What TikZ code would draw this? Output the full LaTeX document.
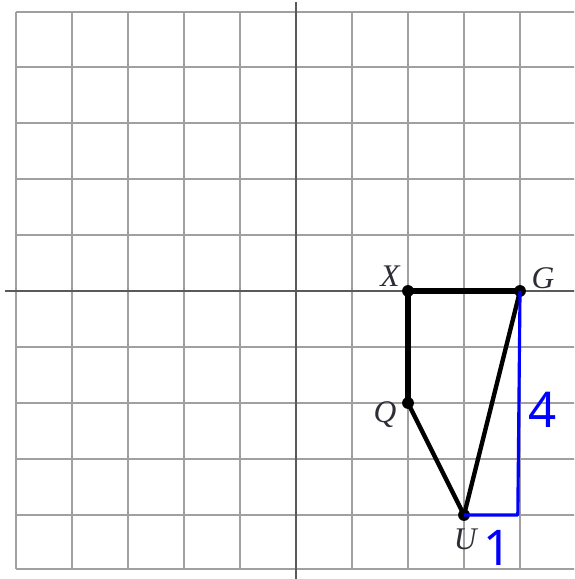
\documentclass[tikz,border=0pt]{standalone}
\usepackage{fontspec}
\newfontfamily\handfont{Noto Sans}
\newfontfamily\pointfont{Liberation Serif}
\usepackage{xcolor}
\usepackage{tikz}
\usetikzlibrary{positioning,calc}

\definecolor{gridgray}{RGB}{160,160,160}
\definecolor{axisgray}{RGB}{90,90,90}
\definecolor{labelgray}{RGB}{45,45,55}
\definecolor{penblue}{RGB}{0,0,255}

\begin{document}
\begin{tikzpicture}[
    gridline/.style={draw=gridgray, line width=1.2pt},
    axisline/.style={draw=axisgray, line width=1.4pt},
    side/.style={draw=black, line width=2.2pt, line join=round},
    thickside/.style={draw=black, line width=3.2pt, line join=round},
    vdot/.style={circle, fill=black, inner sep=0pt, minimum size=6pt},
    vlabel/.style={text=labelgray, font=\pointfont\itshape\fontsize{16}{16}\selectfont, inner sep=0pt},
    penline/.style={draw=penblue, line width=1.6pt, line join=round},
    pennum/.style={text=penblue, font=\handfont\fontsize{25}{25}\selectfont, inner sep=0pt}
]
    \clip (-5.286, -5.143) rectangle (4.964, 5.196);
    \fill[white] (-5.286, -5.143) rectangle (4.964, 5.196);

    % Grid and axes
    \draw[gridline] (-5, -4.96) grid (5.5, 4.98);
    \draw[gridline] (-5, -4.96) -- (5.5, -4.96);
    \draw[gridline] (-5, 4.98) -- (5.5, 4.98);
    \draw[axisline] (-5.2, 0) -- (5, 0);
    \draw[axisline] (0, -5.2) -- (0, 5.16);

    % Vertices
    \node[vdot] (X) at (2, 0) {};
    \node[vdot] (G) at (4, 0) {};
    \node[vdot] (Q) at (2, -2) {};
    \node[vdot] (U) at (3, -4) {};

    % Quadrilateral
    \draw[thickside] (X.center) -- (G.center);
    \draw[thickside] (X.center) -- (Q.center);
    \draw[side] (Q.center) -- (U.center);
    \draw[side] (U.center) -- (G.center);

    % Vertex labels
    \node[vlabel] (lX) at (1.68, 0.27) {X};
    \node[vlabel] (lG) at (4.41, 0.23) {G};
    \node[vlabel] (lQ) at (1.59, -2.20) {Q};
    \node[vlabel] (lU) at (3.02, -4.44) {U};

    % Handwritten rise and run
    \coordinate (corner) at (3.96, -4);
    \draw[penline] (G.center) -- (corner) -- (U.center);
    \node[pennum] (rise) at (4.40, -2.12) {4};
    \node[pennum] (run) at (3.59, -4.58) {1};

\end{tikzpicture}
\end{document}
